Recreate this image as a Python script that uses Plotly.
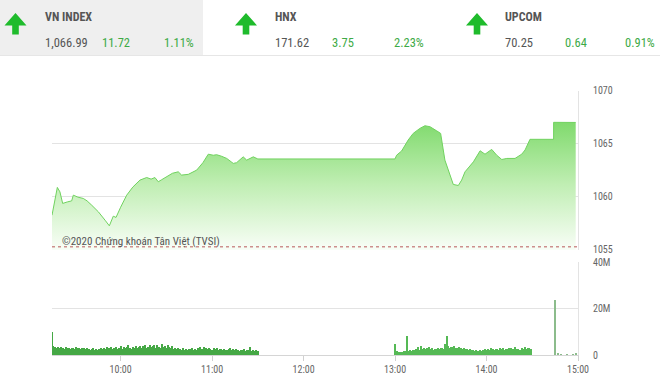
import plotly.graph_objects as go

W, H = 660, 379

# ---------------- data ----------------
index_names = ["VN INDEX", "HNX", "UPCOM"]
index_values = ["1,066.99", "171.62", "70.25"]
index_changes = ["11.72", "3.75", "0.64"]
index_pcts = ["1.11%", "2.23%", "0.91%"]

# price path: minutes since midnight, index level
price_t = [555, 558.5, 560.2, 562, 565, 567.9, 569, 572, 575.5, 578, 581, 585.4, 589.8, 592.6,
           595.2, 597, 600, 604, 608, 612.7, 617.1, 620, 622.5, 624.7, 627, 630.2, 634, 637.8,
           640, 644.4, 649.9, 654, 657.5, 660.8, 663, 666.3, 669.6, 673.9, 676.1, 680.4, 682.7,
           687, 690, 780,
           781, 784.3, 788.6, 791.9, 796.3, 799.6, 802.9, 807.3, 809.9, 812.7, 816, 818.2,
           821.5, 823.7, 825.9, 831.4, 835.8, 839, 843.4, 846.7, 850, 853.3, 858.7, 863.1,
           865.3, 868.5, 884, 884, 898.5]
price_v = [1058.25, 1060.87, 1060.45, 1059.36, 1059.5, 1059.6, 1060.14, 1059.95, 1059.83,
           1059.6, 1059.2, 1058.57, 1057.78, 1057.25, 1058.16, 1058.04, 1059.0, 1060.14, 1060.9,
           1061.56, 1061.8, 1061.65, 1061.8, 1061.4, 1061.6, 1061.87, 1062.2, 1062.34,
           1062.03, 1062.1, 1062.5, 1063.2, 1064.0, 1063.9, 1063.95, 1063.8, 1063.6, 1063.13,
           1063.2, 1063.75, 1063.44, 1063.75, 1063.55, 1063.55,
           1063.9, 1064.3, 1065.33, 1065.96, 1066.43, 1066.68, 1066.59, 1066.2, 1065.96,
           1063.44, 1062.03, 1061.15, 1061.05, 1061.56, 1062.34, 1063.28, 1064.32, 1064.0,
           1064.45, 1063.9, 1063.5, 1063.6, 1063.6, 1064.0, 1064.4, 1065.4, 1065.4, 1067.0,
           1066.99]
ref_price = 1055.27

# volumes (millions) per minute
vol_morning = [9.7, 3.9, 3.6, 3.2, 3.5, 2.8, 3.4, 3.1, 2.6, 3.3, 2.9, 3.2, 2.7, 3.0, 3.1,
               2.6, 3.3, 2.8, 3.0, 2.5, 3.2, 2.9, 2.4, 3.1, 2.7, 2.2, 2.5, 2.8, 2.3, 2.6,
               2.1, 2.7, 2.9, 2.4, 3.2, 2.6, 3.4, 2.8, 3.0, 3.5, 2.5, 2.9, 3.6, 2.7, 3.1,
               3.8, 2.6, 3.3, 2.9, 3.5, 4.2, 3.0, 2.7, 3.6, 3.1, 3.9, 2.8, 3.4, 4.0, 3.2,
               3.7, 4.3, 3.1, 3.6, 4.5, 3.3, 3.9, 4.1, 3.0, 4.4, 3.6, 3.2, 4.6, 3.5, 3.8,
               3.1, 4.2, 3.4, 2.9, 3.7, 2.6, 3.2, 2.4, 2.8, 2.5, 2.2, 2.9, 2.3, 2.6, 2.1,
               2.7, 2.4, 3.0, 2.2, 2.5, 2.0, 2.8, 3.3, 2.6, 2.4, 3.6, 2.9, 2.5, 3.1, 2.7,
               2.3, 2.8, 2.5, 3.0, 2.2, 2.6, 2.4, 2.1, 2.7, 2.3, 2.0, 2.5, 2.9, 2.2, 2.4,
               2.0, 2.6, 2.2, 1.9, 2.3, 2.1, 2.5, 1.8, 2.2, 2.0, 3.4, 1.9, 2.1, 1.8, 2.0,
               1.7]
vol_afternoon = [4.6, 1.6, 1.4, 1.2, 1.5, 1.3, 1.8, 1.6, 8.0, 1.9, 2.1, 1.7, 2.3, 2.0, 2.5,
                 3.5, 2.2, 3.9, 2.6, 3.1, 2.4, 2.8, 3.3, 2.5, 2.9, 2.2, 2.7, 2.4, 3.0, 2.6,
                 2.8, 3.2, 2.5, 4.6, 8.2, 3.8, 3.1, 3.6, 3.4, 4.0, 3.2, 2.8, 3.5, 2.9, 2.6,
                 3.0, 2.4, 2.7, 2.2, 2.5, 2.0, 2.3, 1.8, 2.1, 1.6, 1.9, 2.2, 1.7, 2.0, 2.4,
                 2.1, 2.6, 2.3, 2.8, 2.5, 2.2, 2.7, 2.4, 2.1, 2.9, 2.6, 3.0, 2.3, 2.7, 2.5,
                 2.8, 3.1, 2.6, 2.4, 3.3, 2.7, 2.5, 2.2, 3.0, 2.6, 3.5, 2.4, 2.8, 3.2, 2.5]
atc_t = [885, 887, 889, 893, 897, 899]
atc_v = [23.7, 0.6, 0.4, 0.3, 0.3, 0.5]

tick_vals = [600, 660, 720, 780, 840, 900]
tick_text = ["10:00", "11:00", "12:00", "13:00", "14:00", "15:00"]
price_ticks = [1055, 1060, 1065, 1070]
vol_ticks = [0, 20, 40]
vol_tick_text = ["0", "20M", "40M"]

t_morning = list(range(555, 555 + len(vol_morning)))
t_afternoon = list(range(780, 780 + len(vol_afternoon)))

# ---------------- helpers ----------------
def px(x):
    return x / W

def py(y):
    return 1 - y / H

X0, X1 = 52, 578
GREEN = "#3daa46"
GRID = "#e3e3e3"
FONT = "Roboto Condensed, Liberation Sans Narrow, Roboto, Arial, sans-serif"
AXFONT = dict(family=FONT, size=10, color="#666")

fig = go.Figure()

fig.add_trace(go.Scatter(
    x=price_t, y=price_v, mode="lines", xaxis="x", yaxis="y",
    line=dict(color="#70d25f", width=1),
    fill="tozeroy",
    fillgradient=dict(type="vertical", start=1055.3, stop=1067.0,
                      colorscale=[[0, "#f6fdf4"], [0.5, "#c0eeb3"], [1, "#80da6d"]]),
    hoverinfo="skip", showlegend=False))

fig.add_trace(go.Bar(x=t_morning, y=vol_morning, xaxis="x2", yaxis="y2", width=0.75,
                     marker=dict(color="#45a845", line=dict(width=0)), showlegend=False))
fig.add_trace(go.Bar(x=t_afternoon, y=vol_afternoon, xaxis="x2", yaxis="y2", width=0.75,
                     marker=dict(color="#55b955", line=dict(width=0)), showlegend=False))
fig.add_trace(go.Bar(x=atc_t, y=atc_v, xaxis="x2", yaxis="y2", width=0.9,
                     marker=dict(color="#8cbc8c", line=dict(width=0)), showlegend=False))

shapes = []
shapes.append(dict(type="rect", xref="paper", yref="paper", x0=0, x1=px(203),
                   y0=py(55), y1=1, fillcolor="#efefef", line=dict(width=0), layer="below"))
shapes.append(dict(type="line", xref="paper", yref="paper", x0=0, x1=1,
                   y0=py(55.5), y1=py(55.5), line=dict(color="#e6e6e6", width=1)))

def arrow(cx):
    pts = [(cx, 13), (cx + 11, 25.5), (cx + 3.3, 25.5), (cx + 3.3, 34.5),
           (cx - 3.3, 34.5), (cx - 3.3, 25.5), (cx - 11, 25.5)]
    path = "M " + " L ".join(f"{px(a):.5f},{py(b):.5f}" for a, b in pts) + " Z"
    return dict(type="path", xref="paper", yref="paper", path=path,
                fillcolor="#1fbb2c", line=dict(width=0))

arrow_x = [15.5, 246, 477]
for cx in arrow_x:
    shapes.append(arrow(cx))

shapes.append(dict(type="line", xref="x", yref="y", x0=555, x1=900, y0=ref_price, y1=ref_price,
                   line=dict(color="#b85a5a", width=1, dash="dot")))

annotations = []
name_x = [43, 273, 503]
val_x = [43, 273, 503]
chg_x = [100, 330, 563]
pct_x = [162, 391.5, 622.5]
for i in range(3):
    annotations.append(dict(xref="paper", yref="paper", x=px(name_x[i]), y=py(17),
                            xanchor="left", yanchor="middle", showarrow=False,
                            text=f"<b>{index_names[i]}</b>",
                            font=dict(family=FONT, size=12, color="#555")))
    annotations.append(dict(xref="paper", yref="paper", x=px(val_x[i]), y=py(42),
                            xanchor="left", yanchor="middle", showarrow=False,
                            text=index_values[i],
                            font=dict(family=FONT, size=12.5, color="#555")))
    annotations.append(dict(xref="paper", yref="paper", x=px(chg_x[i]), y=py(42),
                            xanchor="left", yanchor="middle", showarrow=False,
                            text=index_changes[i],
                            font=dict(family=FONT, size=12.5, color=GREEN)))
    annotations.append(dict(xref="paper", yref="paper", x=px(pct_x[i]), y=py(42),
                            xanchor="left", yanchor="middle", showarrow=False,
                            text=index_pcts[i],
                            font=dict(family=FONT, size=12.5, color=GREEN)))

annotations.append(dict(xref="paper", yref="paper", x=px(60), y=py(241.5),
                        xanchor="left", yanchor="middle", showarrow=False,
                        text="©2020 Chứng khoán Tân Việt (TVSI)",
                        font=dict(family=FONT, size=11, color="#555")))

fig.update_layout(
    width=W, height=H, margin=dict(l=0, r=0, t=0, b=0, autoexpand=False),
    paper_bgcolor="white", plot_bgcolor="white",
    bargap=0, barmode="overlay",
    xaxis=dict(domain=[px(X0), px(X1)], range=[555, 900], anchor="y", automargin=False,
               showticklabels=False, showgrid=False, zeroline=False, fixedrange=True),
    yaxis=dict(domain=[py(249.7), py(90.5)], range=[1055, 1070], side="right", automargin=False,
               tickvals=price_ticks, showgrid=True, gridcolor=GRID, zeroline=False,
               showline=True, linecolor=GRID, ticks="outside", ticklen=12,
               tickcolor="rgba(0,0,0,0)", tickfont=AXFONT, anchor="x"),
    xaxis2=dict(domain=[px(X0), px(X1)], range=[555, 900], anchor="y2", automargin=False,
                tickvals=tick_vals, ticktext=tick_text, showgrid=False, zeroline=False,
                showline=True, linecolor="#d5d5d5", ticks="outside", ticklen=5,
                tickcolor="#d0d0d0", tickfont=AXFONT),
    yaxis2=dict(domain=[py(355), py(262)], range=[0, 40], side="right", anchor="x2",
                automargin=False,
                tickvals=vol_ticks, ticktext=vol_tick_text, showgrid=True, gridcolor=GRID,
                zeroline=False, showline=True, linecolor=GRID, ticks="outside", ticklen=12,
                tickcolor="rgba(0,0,0,0)", tickfont=AXFONT),
    shapes=shapes, annotations=annotations,
)

fig.write_html("out.html")
